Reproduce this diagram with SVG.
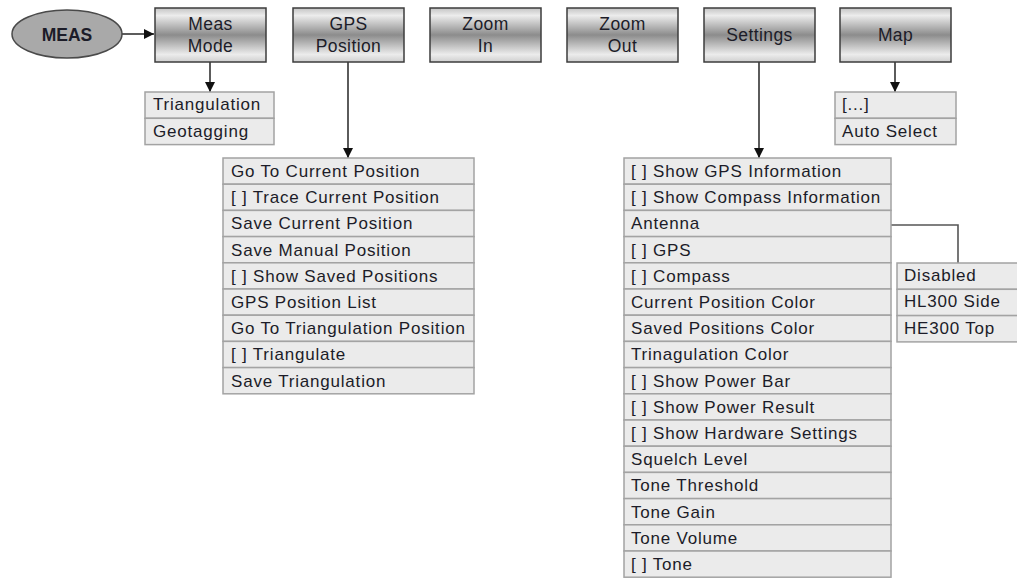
<svg xmlns="http://www.w3.org/2000/svg" width="1017" height="578" viewBox="0 0 1017 578">
<defs>
<linearGradient id="btn" x1="0" y1="0" x2="0" y2="1">
<stop offset="0" stop-color="#c4c4c4"/>
<stop offset="0.14" stop-color="#ececec"/>
<stop offset="0.5" stop-color="#8c8c8c"/>
<stop offset="0.86" stop-color="#ececec"/>
<stop offset="1" stop-color="#cfcfcf"/>
</linearGradient>
<marker id="ah" viewBox="0 0 10 10" refX="10" refY="5" markerWidth="10" markerHeight="10" markerUnits="userSpaceOnUse" orient="auto">
<path d="M0,0 L10,5 L0,10 z" fill="#111"/>
</marker>
</defs>
<style>
.btn{fill:url(#btn);stroke:#3c3c3c;stroke-width:1.5}
.row{fill:#ebebeb;stroke:#a3a3a3;stroke-width:1.5}
.t{font-family:"Liberation Sans",Arial,sans-serif;font-size:17px;letter-spacing:0.8px;fill:#1c1c28}
.bt{font-family:"Liberation Sans",Arial,sans-serif;font-size:17.5px;letter-spacing:0.4px;fill:#1c1c28;text-anchor:middle}
.con{fill:none;stroke:#333;stroke-width:1.6}
.con2{fill:none;stroke:#555;stroke-width:1.6}
</style>
<rect width="1017" height="578" fill="#ffffff"/>

<g id="connectors">
<line class="con" x1="122" y1="34" x2="154" y2="34" marker-end="url(#ah)"/>
<line class="con" x1="210" y1="62" x2="210" y2="92" marker-end="url(#ah)"/>
<line class="con" x1="348" y1="62" x2="348" y2="158" marker-end="url(#ah)"/>
<line class="con" x1="759" y1="62" x2="759" y2="158" marker-end="url(#ah)"/>
<line class="con" x1="895" y1="62" x2="895" y2="92" marker-end="url(#ah)"/>
<polyline class="con2" points="891,225 958,225 958,263"/>
</g>

<g id="meas">
<ellipse cx="67" cy="34" rx="55" ry="24" fill="#a9a9a9" stroke="#4a4a4a" stroke-width="1.5"/>
<text x="67" y="40.5" text-anchor="middle" font-family="'Liberation Sans',Arial,sans-serif" font-size="17.5" font-weight="bold" fill="#1c1c28">MEAS</text>
</g>

<g id="btn-measmode">
<rect class="btn" x="155" y="8" width="111" height="54"/>
<text class="bt" x="210.5" y="30">Meas</text>
<text class="bt" x="210.5" y="52">Mode</text>
</g>
<g id="btn-gps">
<rect class="btn" x="293" y="8" width="111" height="54"/>
<text class="bt" x="348.5" y="30">GPS</text>
<text class="bt" x="348.5" y="52">Position</text>
</g>
<g id="btn-zoomin">
<rect class="btn" x="430" y="8" width="111" height="54"/>
<text class="bt" x="485.5" y="30">Zoom</text>
<text class="bt" x="485.5" y="52">In</text>
</g>
<g id="btn-zoomout">
<rect class="btn" x="567" y="8" width="111" height="54"/>
<text class="bt" x="622.5" y="30">Zoom</text>
<text class="bt" x="622.5" y="52">Out</text>
</g>
<g id="btn-settings">
<rect class="btn" x="704" y="8" width="111" height="54"/>
<text class="bt" x="759.5" y="41">Settings</text>
</g>
<g id="btn-map">
<rect class="btn" x="840" y="8" width="111" height="54"/>
<text class="bt" x="895.5" y="41">Map</text>
</g>

<g id="list-measmode">
<rect class="row" x="145" y="92" width="129" height="26.3"/>
<rect class="row" x="145" y="118.3" width="129" height="26.3"/>
<text class="t" x="153" y="110">Triangulation</text>
<text class="t" x="153" y="136.5">Geotagging</text>
</g>

<g id="list-map">
<rect class="row" x="835" y="92" width="121" height="26.3"/>
<rect class="row" x="835" y="118.3" width="121" height="26.3"/>
<text class="t" x="842" y="110">[...]</text>
<text class="t" x="842" y="136.5">Auto Select</text>
</g>

<g id="list-gps">
<rect class="row" x="223" y="158" width="251" height="26.2"/>
<rect class="row" x="223" y="184.2" width="251" height="26.2"/>
<rect class="row" x="223" y="210.4" width="251" height="26.2"/>
<rect class="row" x="223" y="236.6" width="251" height="26.2"/>
<rect class="row" x="223" y="262.8" width="251" height="26.2"/>
<rect class="row" x="223" y="289" width="251" height="26.2"/>
<rect class="row" x="223" y="315.2" width="251" height="26.2"/>
<rect class="row" x="223" y="341.4" width="251" height="26.2"/>
<rect class="row" x="223" y="367.6" width="251" height="26.2"/>
<text class="t" x="231" y="177">Go To Current Position</text>
<text class="t" x="231" y="203.2">[ ] Trace Current Position</text>
<text class="t" x="231" y="229.4">Save Current Position</text>
<text class="t" x="231" y="255.6">Save Manual Position</text>
<text class="t" x="231" y="281.8">[ ] Show Saved Positions</text>
<text class="t" x="231" y="308">GPS Position List</text>
<text class="t" x="231" y="334.2">Go To Triangulation Position</text>
<text class="t" x="231" y="360.4">[ ] Triangulate</text>
<text class="t" x="231" y="386.6">Save Triangulation</text>
</g>

<g id="list-settings">
<rect class="row" x="624" y="158" width="267" height="26.2"/>
<rect class="row" x="624" y="184.2" width="267" height="26.2"/>
<rect class="row" x="624" y="210.4" width="267" height="26.2"/>
<rect class="row" x="624" y="236.6" width="267" height="26.2"/>
<rect class="row" x="624" y="262.8" width="267" height="26.2"/>
<rect class="row" x="624" y="289" width="267" height="26.2"/>
<rect class="row" x="624" y="315.2" width="267" height="26.2"/>
<rect class="row" x="624" y="341.4" width="267" height="26.2"/>
<rect class="row" x="624" y="367.6" width="267" height="26.2"/>
<rect class="row" x="624" y="393.8" width="267" height="26.2"/>
<rect class="row" x="624" y="420" width="267" height="26.2"/>
<rect class="row" x="624" y="446.2" width="267" height="26.2"/>
<rect class="row" x="624" y="472.4" width="267" height="26.2"/>
<rect class="row" x="624" y="498.6" width="267" height="26.2"/>
<rect class="row" x="624" y="524.8" width="267" height="26.2"/>
<rect class="row" x="624" y="551" width="267" height="26.2"/>
<text class="t" x="631" y="177">[ ] Show GPS Information</text>
<text class="t" x="631" y="203.2">[ ] Show Compass Information</text>
<text class="t" x="631" y="229.4">Antenna</text>
<text class="t" x="631" y="255.6">[ ] GPS</text>
<text class="t" x="631" y="281.8">[ ] Compass</text>
<text class="t" x="631" y="308">Current Position Color</text>
<text class="t" x="631" y="334.2">Saved Positions Color</text>
<text class="t" x="631" y="360.4">Trinagulation Color</text>
<text class="t" x="631" y="386.6">[ ] Show Power Bar</text>
<text class="t" x="631" y="412.8">[ ] Show Power Result</text>
<text class="t" x="631" y="439">[ ] Show Hardware Settings</text>
<text class="t" x="631" y="465.2">Squelch Level</text>
<text class="t" x="631" y="491.4">Tone Threshold</text>
<text class="t" x="631" y="517.6">Tone Gain</text>
<text class="t" x="631" y="543.8">Tone Volume</text>
<text class="t" x="631" y="570">[ ] Tone</text>
</g>

<g id="list-antenna">
<rect class="row" x="897" y="263" width="130" height="26.3"/>
<rect class="row" x="897" y="289.3" width="130" height="26.3"/>
<rect class="row" x="897" y="315.6" width="130" height="26.3"/>
<text class="t" x="904" y="281">Disabled</text>
<text class="t" x="904" y="307.3">HL300 Side</text>
<text class="t" x="904" y="333.6">HE300 Top</text>
</g>
</svg>
